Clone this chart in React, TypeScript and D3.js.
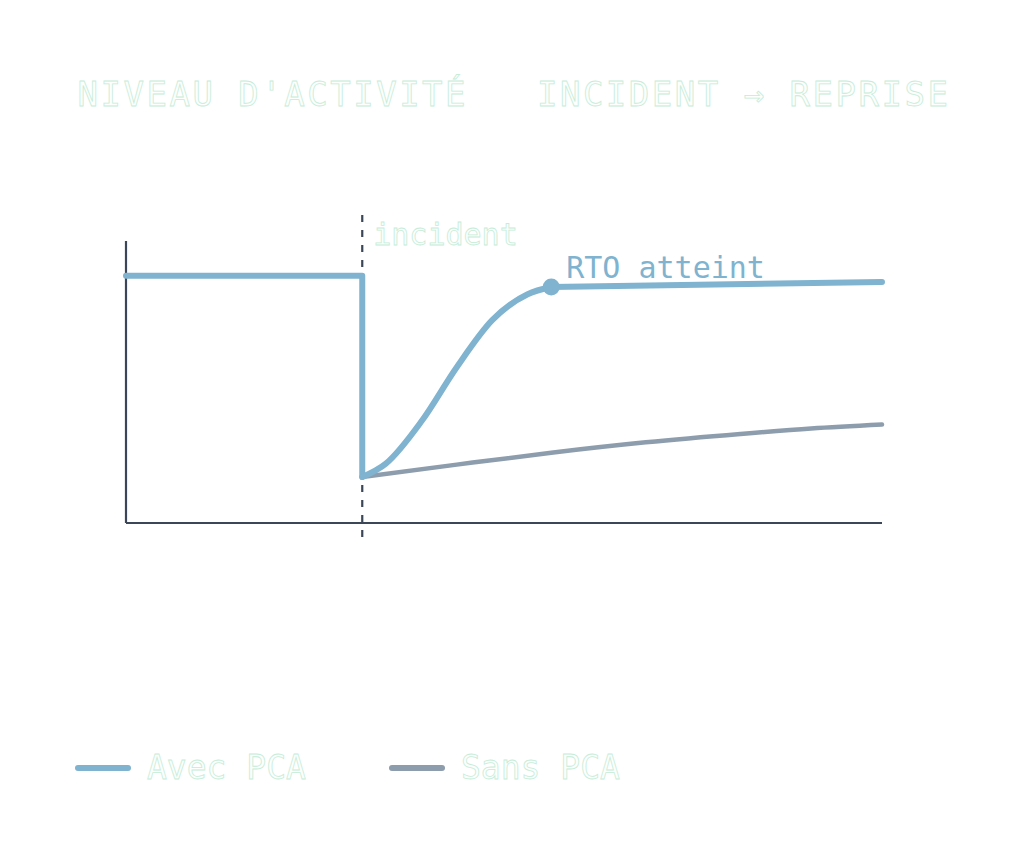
import React, { useEffect, useRef } from 'react';
import * as d3 from 'd3';

// activity level (0..114 scale), time in arbitrary units (incident at t = 10)
const incidentTime = 10;
const rtoTime = 18;

const avecBefore: [number, number][] = [
  [0, 100],
  [10, 100],
  [10, 18.6],
];
const avecRecovery: [number, number][] = [
  [10, 18.6],
  [11, 24],
  [12.5, 41],
  [14, 63],
  [15.5, 82],
  [17, 92.5],
  [18, 95.4],
];
const avecAfter: [number, number][] = [
  [18, 95.4],
  [32, 97.4],
];
const sansPca: [number, number][] = [
  [10, 18.6],
  [14, 23.6],
  [18, 28.4],
  [22, 32.6],
  [26, 36.0],
  [29, 38.2],
  [32, 39.8],
];

const legendItems = [
  { label: 'Avec PCA', color: '#7fb3cf' },
  { label: 'Sans PCA', color: '#8d9dad' },
];

const colors = {
  axis: '#3b4758',
  avec: '#7fb3cf',
  sans: '#8d9dad',
  paleText: '#fcfffc',
  paleStroke: '#c6ecd8',
};

const mono = '"DejaVu Sans Mono", "Liberation Mono", monospace';

const App: React.FC = () => {
  const svgRef = useRef<SVGSVGElement>(null);

  useEffect(() => {
    document.body.style.margin = '0';
    if (!svgRef.current) return;
    const svg = d3.select(svgRef.current);
    svg.selectAll('*').remove();

    const x = d3.scaleLinear().domain([0, 32]).range([126, 882]);
    const y = d3.scaleLinear().domain([0, 114]).range([523, 241]);

    // Title
    svg.append('text')
      .attr('x', 514)
      .attr('y', 106)
      .attr('text-anchor', 'middle')
      .attr('font-family', mono)
      .attr('font-size', 34)
      .attr('letter-spacing', 2.5)
      .attr('fill', colors.paleText)
      .attr('stroke', colors.paleStroke)
      .attr('stroke-width', 0.8)
      .style('white-space', 'pre')
      .text("NIVEAU D'ACTIVITÉ   INCIDENT → REPRISE");

    // Axes
    svg.append('line')
      .attr('x1', x(0)).attr('x2', x(0))
      .attr('y1', y(114)).attr('y2', y(0))
      .attr('stroke', colors.axis)
      .attr('stroke-width', 2.2);
    svg.append('line')
      .attr('x1', x(0)).attr('x2', x(32))
      .attr('y1', y(0)).attr('y2', y(0))
      .attr('stroke', colors.axis)
      .attr('stroke-width', 2.2);

    // Incident marker
    svg.append('line')
      .attr('x1', x(incidentTime)).attr('x2', x(incidentTime))
      .attr('y1', 215).attr('y2', 540)
      .attr('stroke', colors.axis)
      .attr('stroke-width', 2.2)
      .attr('stroke-dasharray', '7 8');

    svg.append('text')
      .attr('x', x(incidentTime) + 11)
      .attr('y', 245)
      .attr('font-family', mono)
      .attr('font-size', 30)
      .attr('fill', colors.paleText)
      .attr('stroke', colors.paleStroke)
      .attr('stroke-width', 0.8)
      .text('incident');

    const linear = d3.line<[number, number]>()
      .x(d => x(d[0]))
      .y(d => y(d[1]));
    const smooth = d3.line<[number, number]>()
      .x(d => x(d[0]))
      .y(d => y(d[1]))
      .curve(d3.curveMonotoneX);

    // Sans PCA
    svg.append('path')
      .attr('d', smooth(sansPca))
      .attr('fill', 'none')
      .attr('stroke', colors.sans)
      .attr('stroke-width', 4.5)
      .attr('stroke-linecap', 'round');

    // Avec PCA
    [linear(avecBefore), smooth(avecRecovery), linear(avecAfter)].forEach(d => {
      svg.append('path')
        .attr('d', d)
        .attr('fill', 'none')
        .attr('stroke', colors.avec)
        .attr('stroke-width', 6)
        .attr('stroke-linecap', 'round')
        .attr('stroke-linejoin', 'round');
    });

    // RTO point
    const rtoLevel = avecAfter[0][1];
    svg.append('circle')
      .attr('cx', x(rtoTime))
      .attr('cy', y(rtoLevel))
      .attr('r', 8.5)
      .attr('fill', colors.avec);

    svg.append('text')
      .attr('x', x(rtoTime) + 15)
      .attr('y', 278)
      .attr('font-family', mono)
      .attr('font-size', 30)
      .attr('fill', colors.avec)
      .text('RTO atteint');

    // Legend
    const legendX = [78, 392];
    legendItems.forEach((item, i) => {
      const g = svg.append('g').attr('transform', `translate(${legendX[i]}, 768)`);
      g.append('line')
        .attr('x1', 0).attr('x2', 50)
        .attr('y1', 0).attr('y2', 0)
        .attr('stroke', item.color)
        .attr('stroke-width', 6)
        .attr('stroke-linecap', 'round');
      g.append('text')
        .attr('x', 69)
        .attr('y', 11)
        .attr('font-family', mono)
        .attr('font-size', 33)
        .attr('fill', colors.paleText)
        .attr('stroke', colors.paleStroke)
        .attr('stroke-width', 0.8)
        .text(item.label);
    });
  }, []);

  return <svg ref={svgRef} width={1024} height={847} style={{ display: 'block', background: '#ffffff' }} />;
};

export default App;
